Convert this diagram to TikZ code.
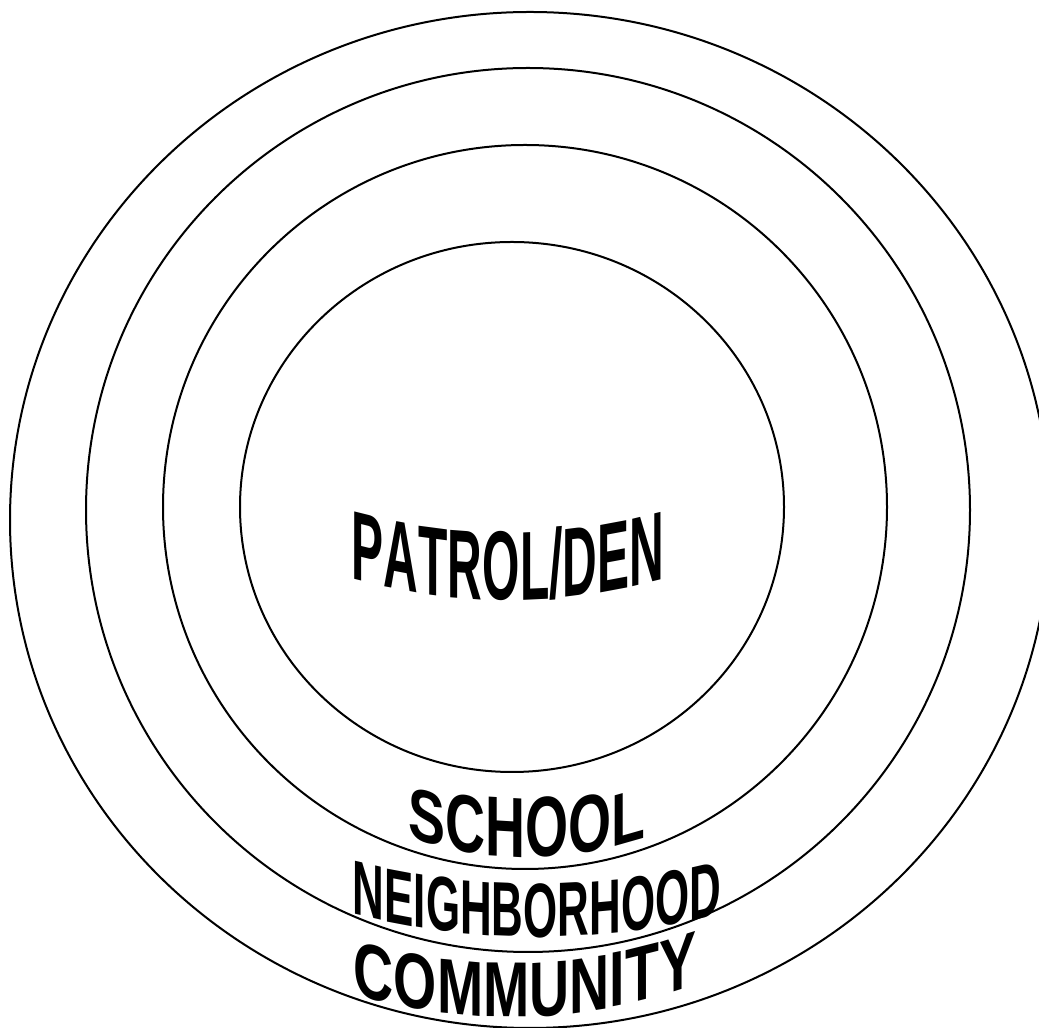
\documentclass[tikz,border=0pt]{standalone}
\usepackage{fontspec}
\newfontfamily\arialfont{Liberation Sans}
\newcommand\slashchar{/}
% vertical scale of a letter: \wyc - \wyk * (distance from vertex)^2
\def\wyc{1}\def\wyk{0}
% #1 text centre x, #2 vertex x, #3 baseline Y at vertex, #4 sag coefficient,
% #5 font, #6 em size, #7 xscale, #8 list letter/advance (per 1000 em)
\newcommand\warpword[8]{%
  \gdef\wsum{0}%
  \foreach \ch/\cw in {#8}{\pgfmathsetmacro\wtmp{\wsum+\cw}\xdef\wsum{\wtmp}}%
  \pgfmathsetmacro\wtmp{#1-#7*#6*(\wsum/2000)}\xdef\wpos{\wtmp}%
  \foreach \ch/\cw in {#8}{%
    \pgfmathsetmacro\lw{#7*#6*(\cw/1000)}%
    \pgfmathsetmacro\lx{\wpos+\lw/2}%
    \pgfmathsetmacro\ly{#3+#4*(\lx-#2)*(\lx-#2)}%
    \pgfmathsetmacro\lslope{2*#4*(\lx-#2)}%
    \pgfmathsetmacro\lys{\wyc-\wyk*(\lx-#2)*(\lx-#2)}%
    \node[letter, font=#5, yslant=\lslope, xscale=#7, yscale=\lys] at (\lx,\ly) {\ch};
    \pgfmathsetmacro\wtmp{\wpos+\lw}\xdef\wpos{\wtmp}%
  }%
}
\begin{document}
\begin{tikzpicture}[x=1pt, y=1pt,
  ring/.style={draw=black, line width=2pt},
  letter/.style={anchor=base, inner sep=0pt, outer sep=0pt, text depth=0pt}]
\useasboundingbox (0,0) rectangle (1039,1028);
\clip (0,0) rectangle (1039,1028);
% rings (y measured upward: Y = 1028 - image y)
\draw[ring] (530,508) ellipse [x radius=520, y radius=508];
\draw[ring] (528,518) circle [radius=442];
\draw[ring] (525,521) circle [radius=362];
\draw[ring] (512,521) ellipse [x radius=272, y radius=265];
% words
\warpword{508}{508}{428}{0.00089}{\arialfont\bfseries\fontsize{98}{98}\selectfont}{98}{0.49}%
  {P/667,A/722,T/611,R/722,O/778,L/611,\slashchar/278,D/722,E/667,N/722}
\def\wyc{1.1}\def\wyk{0.000017}
\warpword{527}{527}{171}{0.0014}{\arialfont\bfseries\fontsize{78}{78}\selectfont}{78}{0.71}%
  {S/667,C/722,H/722,O/778,O/778,L/611}
\def\wyc{1}\def\wyk{0}
\warpword{537}{537}{91}{0.00069}{\arialfont\bfseries\fontsize{77}{77}\selectfont}{77}{0.57}%
  {N/722,E/667,I/278,G/778,H/722,B/722,O/778,R/722,H/722,O/778,O/778,D/722}
\def\wyc{1.04}\def\wyk{0.000006}
\warpword{525}{510}{11}{0.00094}{\arialfont\bfseries\fontsize{75}{75}\selectfont}{75}{0.74}%
  {C/722,O/778,M/833,M/833,U/722,N/722,I/278,T/611,Y/667}
\end{tikzpicture}
\end{document}
